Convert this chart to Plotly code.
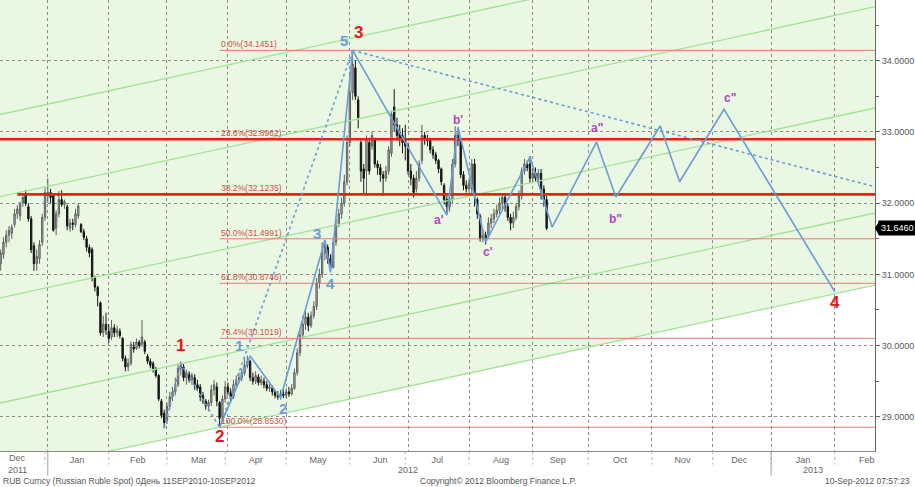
import pandas as pd
import plotly.graph_objects as go

# ---------------- daily OHLC (USD/RUB), trading days from 8 Dec 2011 to 10 Sep 2012 -------------
open_px = [
    31.15, 31.28, 31.45, 31.55, 31.58, 31.70, 31.85, 31.82, 32.00, 32.12, 31.95, 31.78, 31.40, 31.15, 31.22, 31.45, 31.80,
    32.10, 32.15, 32.10, 31.65, 31.85, 32.05, 31.98, 31.95, 31.65, 31.72,
    31.70, 31.82, 31.70, 31.60, 31.50, 31.38, 31.35, 30.95, 30.82, 30.60,
    30.18, 30.30, 30.20, 30.12, 30.25, 30.18, 30.20, 30.10, 29.82, 29.70,
    29.75, 29.98, 29.96, 30.05, 30.02, 30.05, 29.85, 29.78, 29.75, 29.68,
    29.58, 29.22, 29.05,
    28.95, 29.15, 29.28, 29.35, 29.45, 29.68, 29.70, 29.55, 29.60, 29.52,
    29.55, 29.45, 29.42, 29.30, 29.22, 29.15, 29.20, 29.38, 29.42, 29.20,
    29.00, 29.25, 29.42, 29.35, 29.28, 29.45, 29.52, 29.55, 29.62, 29.72,
    29.78, 29.55, 29.50, 29.56, 29.48, 29.50, 29.45, 29.40, 29.40, 29.35,
    29.30, 29.28, 29.32, 29.30, 29.35, 29.32, 29.40, 29.62, 29.90, 30.15,
    30.30, 30.40, 30.28, 30.42, 30.55, 30.88, 31.00, 31.30, 31.38, 31.22,
    31.10, 31.45, 31.70, 31.85, 32.00, 32.30, 32.85, 33.55,
    33.90, 33.45, 32.85, 32.48, 32.45, 32.85, 32.80, 32.90, 32.55, 32.50,
    32.40, 32.35, 32.45, 32.70, 33.35, 33.10, 33.00, 32.95, 32.90, 32.80,
    32.45, 32.35, 32.20, 32.35, 32.60, 32.95, 32.90, 32.88, 32.75, 32.68,
    32.60, 32.48, 32.25, 32.05, 31.95, 32.05, 32.55, 32.95, 32.88, 32.40,
    32.25, 32.20, 32.20, 32.55, 32.05, 31.82, 31.50, 31.55, 31.55, 31.72,
    31.78, 31.85, 31.90, 32.00, 32.08, 31.95, 31.80, 31.72, 31.80, 31.95,
    32.10, 32.45, 32.55, 32.55, 32.35, 32.42, 32.35, 32.42, 32.20, 32.05,
]
high_px = [
    31.35, 31.52, 31.62, 31.68, 31.70, 31.92, 31.97, 32.02, 32.12, 32.18, 32.00, 31.82, 31.45, 31.35, 31.48, 31.85, 32.22,
    32.35, 32.20, 32.12, 31.90, 32.17, 32.18, 32.05, 31.98, 31.78, 31.78,
    31.92, 32.00, 31.72, 31.64, 31.54, 31.42, 31.38, 30.98, 30.84, 30.62,
    30.42, 30.46, 30.30, 30.36, 30.30, 30.28, 30.24, 30.12, 29.86, 29.82,
    30.06, 30.05, 30.10, 30.08, 30.36, 30.08, 29.88, 29.82, 29.78, 29.70,
    29.60, 29.25, 29.10,
    29.20, 29.35, 29.42, 29.55, 29.75, 29.78, 29.74, 29.66, 29.64, 29.62,
    29.60, 29.52, 29.46, 29.35, 29.25, 29.24, 29.45, 29.52, 29.48, 29.22,
    29.30, 29.50, 29.48, 29.40, 29.52, 29.58, 29.62, 29.68, 29.82, 29.86,
    29.80, 29.62, 29.64, 29.60, 29.58, 29.55, 29.50, 29.48, 29.44, 29.38,
    29.36, 29.38, 29.40, 29.40, 29.42, 29.46, 29.68, 29.96, 30.22, 30.42,
    30.50, 30.46, 30.48, 30.62, 30.95, 31.08, 31.45, 31.48, 31.42, 31.28,
    31.52, 31.78, 31.92, 32.08, 32.40, 32.95, 33.80, 34.1451,
    34.00, 33.50, 32.90, 32.55, 32.95, 32.92, 33.00, 32.92, 32.60, 32.55,
    32.45, 32.52, 32.80, 33.30, 33.60, 33.20, 33.10, 33.05, 33.10, 32.85,
    32.55, 32.40, 32.45, 32.60, 33.10, 33.00, 32.96, 32.92, 32.80, 32.72,
    32.62, 32.50, 32.28, 32.10, 32.12, 32.62, 33.08, 33.02, 32.92, 32.45,
    32.32, 32.35, 32.62, 32.62, 32.08, 31.85, 31.62, 31.60, 31.80, 31.85,
    31.92, 31.98, 32.08, 32.14, 32.12, 32.00, 31.85, 31.88, 32.00, 32.18,
    32.50, 32.62, 32.60, 32.66, 32.48, 32.50, 32.48, 32.48, 32.25, 32.10,
]
low_px = [
    31.05, 31.22, 31.38, 31.45, 31.50, 31.66, 31.78, 31.75, 31.95, 31.96, 31.74, 31.30, 31.05, 31.05, 31.15, 31.40, 31.75,
    32.00, 32.00, 31.60, 31.55, 31.80, 31.95, 31.92, 31.62, 31.60, 31.62,
    31.66, 31.78, 31.58, 31.48, 31.32, 31.24, 30.90, 30.76, 30.55, 30.14,
    30.12, 30.15, 30.04, 30.08, 30.12, 30.12, 30.10, 29.78, 29.64, 29.64,
    29.72, 29.90, 29.94, 29.96, 29.98, 29.88, 29.74, 29.68, 29.62, 29.55,
    29.22, 28.98, 28.84,
    28.90, 29.10, 29.22, 29.30, 29.42, 29.58, 29.50, 29.45, 29.48, 29.45,
    29.38, 29.36, 29.22, 29.18, 29.10, 29.08, 29.15, 29.30, 29.15, 28.86,
    28.95, 29.20, 29.30, 29.20, 29.25, 29.40, 29.48, 29.50, 29.58, 29.68,
    29.50, 29.45, 29.46, 29.44, 29.44, 29.40, 29.36, 29.35, 29.30, 29.26,
    29.24, 29.24, 29.26, 29.26, 29.28, 29.30, 29.38, 29.58, 29.85, 30.10,
    30.22, 30.20, 30.25, 30.38, 30.50, 30.80, 30.95, 31.20, 31.15, 31.03,
    31.08, 31.40, 31.66, 31.78, 31.95, 32.25, 32.80, 33.45,
    33.45, 33.05, 32.30, 32.12, 32.10, 32.40, 32.75, 32.50, 32.40, 32.30,
    32.10, 32.30, 32.40, 32.65, 33.00, 32.88, 32.80, 32.70, 32.60, 32.40,
    32.25, 32.08, 32.15, 32.30, 32.55, 32.82, 32.80, 32.70, 32.62, 32.55,
    32.42, 32.25, 31.98, 31.85, 31.88, 32.00, 32.50, 32.80, 32.35, 32.18,
    32.15, 32.15, 32.10, 31.95, 31.78, 31.46, 31.45, 31.42, 31.50, 31.65,
    31.72, 31.80, 31.85, 31.92, 31.88, 31.75, 31.62, 31.65, 31.76, 31.90,
    32.05, 32.40, 32.45, 32.28, 32.28, 32.30, 32.28, 32.05, 31.95, 31.62,
]
close_px = [
    31.30, 31.45, 31.55, 31.62, 31.66, 31.85, 31.92, 31.98, 32.08, 32.00, 31.78, 31.35, 31.15, 31.25, 31.42, 31.80, 32.15,
    32.15, 32.08, 31.62, 31.85, 32.05, 31.98, 32.02, 31.68, 31.72, 31.70,
    31.85, 31.96, 31.60, 31.52, 31.38, 31.30, 30.95, 30.82, 30.70, 30.18,
    30.30, 30.22, 30.10, 30.25, 30.18, 30.22, 30.14, 29.82, 29.70, 29.75,
    30.02, 29.95, 30.05, 30.00, 30.12, 29.92, 29.78, 29.72, 29.68, 29.58,
    29.25, 29.02, 28.92,
    29.15, 29.28, 29.35, 29.45, 29.68, 29.72, 29.55, 29.62, 29.52, 29.58,
    29.45, 29.40, 29.28, 29.22, 29.15, 29.20, 29.38, 29.45, 29.22, 28.98,
    29.25, 29.42, 29.35, 29.28, 29.45, 29.52, 29.55, 29.62, 29.72, 29.78,
    29.55, 29.50, 29.58, 29.48, 29.52, 29.45, 29.40, 29.42, 29.35, 29.30,
    29.28, 29.32, 29.30, 29.35, 29.32, 29.40, 29.62, 29.90, 30.15, 30.30,
    30.40, 30.28, 30.42, 30.55, 30.88, 31.00, 31.30, 31.40, 31.22, 31.10,
    31.45, 31.70, 31.85, 32.00, 32.30, 32.85, 33.55, 33.95,
    33.50, 33.20, 32.45, 32.35, 32.90, 32.45, 32.95, 32.55, 32.50, 32.40,
    32.35, 32.45, 32.75, 33.25, 33.10, 32.95, 32.90, 32.85, 32.80, 32.45,
    32.35, 32.15, 32.35, 32.55, 32.95, 32.90, 32.88, 32.75, 32.68, 32.60,
    32.48, 32.30, 32.05, 31.95, 32.05, 32.55, 32.95, 32.88, 32.40, 32.25,
    32.20, 32.28, 32.55, 32.10, 31.85, 31.50, 31.55, 31.50, 31.72, 31.78,
    31.85, 31.90, 32.00, 32.08, 31.95, 31.80, 31.72, 31.80, 31.95, 32.10,
    32.45, 32.55, 32.50, 32.35, 32.42, 32.35, 32.42, 32.20, 32.05, 31.646,
]
trade_dates = pd.bdate_range("2011-12-08", periods=len(close_px))

last_price = 31.6460

# ---------------- axis window ----------------
x_start = "2011-12-07 18:00"
x_end = "2013-02-21 12:00"
y_min, y_max = 28.52, 34.852

# ---------------- Fibonacci retracement ----------------
fib_pct = ["0.0%", "23.6%", "38.2%", "50.0%", "61.8%", "76.4%", "100.0%"]
fib_val = [34.1451, 32.8962, 32.1235, 31.4991, 30.8746, 30.1019, 28.8530]
fib_from = "2012-03-28"

# thick support / resistance lines
sr_val = [32.8962, 32.1235]
sr_from = [x_start, "2011-12-16"]

# rising channel lines (value at left edge, value at right edge)
chan_left = [33.244, 32.091, 30.669, 29.194, 28.183]
chan_right = [35.912, 34.758, 33.336, 31.862, 30.850]

# Elliott wave path (solid) incl. projection
wave_dates = ["2012-03-28", "2012-04-12", "2012-04-27", "2012-05-21", "2012-05-23", "2012-06-04",
              "2012-07-20", "2012-07-26", "2012-08-09", "2012-08-31", "2012-09-12", "2012-10-04",
              "2012-10-15", "2012-11-06", "2012-11-15", "2012-12-07", "2013-02-01"]
wave_vals = [28.853, 29.853, 29.263, 31.482, 31.03, 34.1451,
             31.833, 33.069, 31.454, 32.647, 31.664, 32.858,
             32.086, 33.083, 32.30, 33.317, 30.756]

# dotted lines
w1_dates = ["2012-02-29", "2012-03-08", "2012-03-28"]
w1_vals = [28.84, 29.75, 28.853]
w23_dates = ["2012-03-28", "2012-06-04"]
w23_vals = [28.853, 34.1451]
wdown_dates = ["2012-06-04", x_end]
wdown_vals = [34.1451, 32.23]

# wave labels
red_txt = ["1", "2", "3", "4"]
red_dates = ["2012-03-08", "2012-03-28", "2012-06-06", "2013-02-01"]
red_vals = [30.007, 28.73, 34.40, 30.611]
blue_txt = ["1", "2", "3", "4", "5"]
blue_dates = ["2012-04-06", "2012-04-30", "2012-05-16", "2012-05-23", "2012-05-30"]
blue_vals = [30.007, 29.115, 31.576, 30.874, 34.29]
pur_txt = ["a'", "b'", "c'", 'a"', 'b"', 'c"']
pur_dates = ["2012-07-17", "2012-07-26", "2012-08-10", "2012-10-04", "2012-10-15", "2012-12-11"]
pur_vals = [31.763, 33.167, 31.317, 33.05, 31.772, 33.472]

first_month_txt = "Dec"
first_month_mid = "2011-12-16"
year_txt = ["2011", "2012", "2013"]
year_dates = ["2011-12-16", "2012-07-02", "2013-01-22"]
year_sep_dates = ["2012-01-02", "2013-01-01"]
month_starts = pd.date_range("2012-01-01", "2013-02-01", freq="MS")

FONT = "Liberation Sans, Arial, sans-serif"
GREEN_FILL = "#eaf8e3"
GREEN_LINE = "#a3e296"
BLUE = "#6b9dd4"
RED_THICK = "#e2231a"
RED_THIN = "#df7d72"
FIB_TXT = "#cf4d3f"
AX_TXT = "#666"

fig = go.Figure()

for a, b in zip(chan_left, chan_right):
    fig.add_trace(go.Scatter(x=[x_start, x_end], y=[a, b], mode="lines",
                             line=dict(color=GREEN_LINE, width=1.3), hoverinfo="skip"))

for v in fib_val:
    fig.add_trace(go.Scatter(x=[fib_from, x_end], y=[v, v], mode="lines",
                             line=dict(color=RED_THIN, width=1), hoverinfo="skip"))

fig.add_trace(go.Candlestick(
    x=trade_dates, open=open_px, high=high_px, low=low_px, close=close_px,
    increasing=dict(line=dict(color="#5e5e5e", width=1), fillcolor="#b8b8b8"),
    decreasing=dict(line=dict(color="#151515", width=1), fillcolor="#151515"),
    whiskerwidth=0, hoverinfo="skip"))

for v, f in zip(sr_val, sr_from):
    fig.add_trace(go.Scatter(x=[f, x_end], y=[v, v], mode="lines",
                             line=dict(color=RED_THICK, width=2.6), hoverinfo="skip"))

for xs, ys in [(w1_dates, w1_vals), (w23_dates, w23_vals), (wdown_dates, wdown_vals)]:
    fig.add_trace(go.Scatter(x=xs, y=ys, mode="lines",
                             line=dict(color=BLUE, width=1.6, dash="dot"), hoverinfo="skip"))
fig.add_trace(go.Scatter(x=wave_dates, y=wave_vals, mode="lines",
                         line=dict(color=BLUE, width=1.6), hoverinfo="skip"))

# green channel shading above the lowest channel line (drawn beneath the grid)
xs_, xe_ = x_start.replace(" ", "_"), x_end.replace(" ", "_")
path = (f"M{xs_},{chan_left[-1]} L{xe_},{chan_right[-1]} "
        f"L{xe_},{y_max + 1} L{xs_},{y_max + 1} Z")
shapes = [dict(type="path", path=path, xref="x", yref="y", fillcolor=GREEN_FILL,
               line=dict(width=0), layer="below")]
for d in month_starts:
    shapes.append(dict(type="line", xref="x", yref="paper", x0=d, x1=d, y0=0, y1=-0.03,
                       line=dict(color="#b0b0b0", width=1, dash="dot")))
for d in year_sep_dates:
    shapes.append(dict(type="line", xref="x", yref="paper", x0=d, x1=d, y0=0, y1=-0.055,
                       line=dict(color="#a0a0a0", width=1)))
# pointer of the last-price tag
shapes.append(dict(type="path", xref="paper", yref="y", xsizemode="pixel", ysizemode="pixel",
                   xanchor=1, yanchor=last_price, path="M0,0 L4,-7 L4,7 Z",
                   fillcolor="#000", line=dict(width=0), layer="above"))

ann = []
for p, v in zip(fib_pct, fib_val):
    ann.append(dict(x=fib_from, y=v, text=f"{p}({v:.4f})", showarrow=False, xanchor="left",
                    yanchor="bottom", xshift=-1, yshift=-1,
                    font=dict(family=FONT, size=8.5, color=FIB_TXT)))
for t, d, v in zip(red_txt, red_dates, red_vals):
    ann.append(dict(x=d, y=v, text=f"<b>{t}</b>", showarrow=False,
                    font=dict(family=FONT, size=17, color="#e3161c")))
for t, d, v in zip(blue_txt, blue_dates, blue_vals):
    ann.append(dict(x=d, y=v, text=f"<b>{t}</b>", showarrow=False,
                    font=dict(family=FONT, size=15, color=BLUE)))
for t, d, v in zip(pur_txt, pur_dates, pur_vals):
    ann.append(dict(x=d, y=v, text=f"<b>{t}</b>", showarrow=False,
                    font=dict(family=FONT, size=12, color="#b246bc")))
ann.append(dict(x=first_month_mid, xref="x", y=0, yref="paper", yanchor="middle", yshift=-7,
                text=first_month_txt, showarrow=False, font=dict(family=FONT, size=9, color=AX_TXT)))
for t, d in zip(year_txt, year_dates):
    ann.append(dict(x=d, xref="x", y=0, yref="paper", yanchor="middle", yshift=-19, text=t,
                    showarrow=False, font=dict(family=FONT, size=9, color=AX_TXT)))
ann.append(dict(x=0, xref="paper", y=0, yref="paper", xanchor="left", yanchor="middle", xshift=1, yshift=-30,
                text="RUB Curncy (Russian Ruble Spot) 0День 11SEP2010-10SEP2012", showarrow=False,
                font=dict(family=FONT, size=8.5, color="#555")))
ann.append(dict(x=0.569, xref="paper", y=0, yref="paper", xanchor="center", yanchor="middle", yshift=-30,
                text="Copyright© 2012 Bloomberg Finance L.P.", showarrow=False,
                font=dict(family=FONT, size=8.5, color="#555")))
ann.append(dict(x=1, xref="paper", y=0, yref="paper", xanchor="right", yanchor="middle", xshift=37, yshift=-30,
                text="10-Sep-2012 07:57:23", showarrow=False,
                font=dict(family=FONT, size=8.5, color="#555")))
ann.append(dict(x=1, xref="paper", y=last_price, yref="y", xanchor="left", yanchor="middle", xshift=3,
                text=f"{last_price:.4f}", showarrow=False, bgcolor="#000", borderpad=2,
                font=dict(family=FONT, size=9, color="#fff")))

fig.update_layout(
    width=915, height=487,
    margin=dict(l=0, r=40, t=0, b=36),
    paper_bgcolor="white", plot_bgcolor="white",
    showlegend=False,
    shapes=shapes, annotations=ann,
    xaxis=dict(type="date", range=[x_start, x_end], rangebreaks=[dict(bounds=["sat", "mon"])],
               dtick="M1", tick0="2012-01-01", tickformat="%b", ticklabelmode="period",
               showgrid=True, gridcolor="#8a8a8a", griddash="dot", gridwidth=1,
               ticks="", tickfont=dict(family=FONT, size=9, color=AX_TXT),
               showline=True, linecolor="#888", zeroline=False, automargin=False,
               rangeslider=dict(visible=False)),
    yaxis=dict(side="right", range=[y_min, y_max], dtick=1, tick0=29, tickformat=".4f",
               showgrid=True, gridcolor="#8a8a8a", griddash="dot", gridwidth=1,
               ticks="outside", ticklen=4, tickcolor="#666",
               minor=dict(dtick=0.5, ticks="outside", ticklen=3, tickcolor="#666"),
               tickfont=dict(family=FONT, size=9, color="#555"),
               showline=True, linecolor="#666", zeroline=False, automargin=False),
)

fig.write_html("out.html", config={"displayModeBar": False},
               post_script="document.body.style.margin='0';document.body.style.overflow='hidden';")
